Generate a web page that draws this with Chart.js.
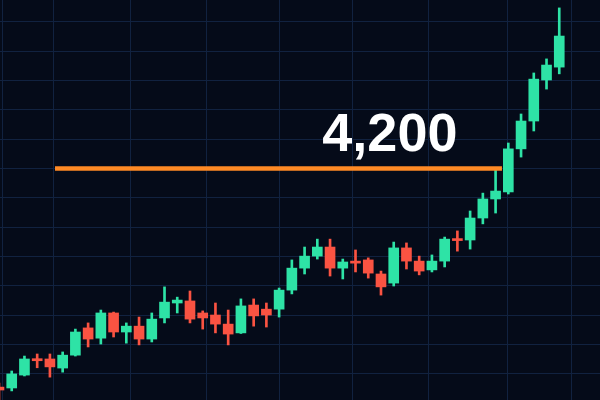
<!DOCTYPE html>
<html>
<head>
<meta charset="utf-8">
<script src="https://cdn.jsdelivr.net/npm/chart.js@4.4.1/dist/chart.umd.min.js"></script>
<style>
  html, body { margin: 0; padding: 0; background: #050b19; }
  #wrap { width: 600px; height: 400px; }
</style>
</head>
<body>
<div id="wrap"><canvas id="chart" width="600" height="400"></canvas></div>
<script>
// OHLC per candle, oldest first
const opens  = [3454, 3451, 3495, 3551, 3550, 3519, 3563, 3656, 3621, 3707, 3642, 3662, 3618, 3690, 3741,
                3748, 3707, 3700, 3669, 3639, 3734, 3720, 3720, 3785, 3860, 3901, 3932, 3860, 3884, 3888,
                3840, 3809, 3929, 3884, 3854, 3884, 3958, 3956, 4031, 4096, 4120, 4267, 4362, 4502, 4546];
const closes = [3444, 3499, 3550, 3544, 3523, 3563, 3642, 3618, 3707, 3642, 3662, 3618, 3686, 3744, 3751,
                3686, 3690, 3669, 3635, 3731, 3697, 3700, 3785, 3860, 3901, 3932, 3860, 3881, 3877, 3843,
                3796, 3929, 3884, 3850, 3884, 3959, 3954, 4031, 4096, 4123, 4267, 4362, 4505, 4553, 4652];
const highs  = [3468, 3509, 3560, 3567, 3567, 3574, 3652, 3673, 3717, 3710, 3673, 3693, 3707, 3796, 3761,
                3782, 3714, 3741, 3717, 3755, 3755, 3741, 3792, 3888, 3932, 3959, 3959, 3891, 3922, 3895,
                3850, 3949, 3946, 3901, 3905, 3966, 3987, 4055, 4116, 4198, 4287, 4386, 4526, 4574, 4748];
const lows   = [3403, 3441, 3492, 3520, 3488, 3505, 3560, 3591, 3601, 3625, 3604, 3598, 3608, 3673, 3707,
                3673, 3652, 3639, 3598, 3637, 3662, 3659, 3693, 3772, 3840, 3891, 3833, 3823, 3847, 3826,
                3768, 3799, 3857, 3837, 3847, 3864, 3918, 3925, 4011, 4048, 4113, 4239, 4328, 4471, 4523];

// resistance level and its label
const levelValue = 4200;
const levelFrom = 4.4;    // candle index where the level line starts
const levelTo = 39.5;     // ... and where it ends
const labelText = '4,200';
const labelIndex = 30.7;

// grid
const yTicks = [3500, 3600, 3700, 3800, 3900, 4000, 4100, 4200, 4300, 4400, 4500, 4600, 4700];
const gridX = [0.3, 4.3, 10.3, 16.3, 22, 27.8, 33.7, 39.9, 45];

const GREEN = '#2ee3a6';
const RED = '#fa5342';
const ORANGE = '#ff8a25';
const GRID = '#112240';

const idx = opens.map((_, i) => i);
const colors = idx.map(i => closes[i] >= opens[i] ? GREEN : RED);

const levelLabel = {
    id: 'levelLabel',
    afterDatasetsDraw(chart) {
        const { ctx, scales: { x, y } } = chart;
        ctx.save();
        ctx.font = 'bold 54px "Liberation Sans", Arial, sans-serif';
        ctx.fillStyle = '#ffffff';
        ctx.textAlign = 'center';
        ctx.textBaseline = 'alphabetic';
        ctx.fillText(labelText, x.getPixelForValue(labelIndex), y.getPixelForValue(levelValue) - 17);
        ctx.restore();
    }
};

new Chart(document.getElementById('chart'), {
    type: 'bar',
    data: {
        datasets: [
            {
                type: 'line',
                data: [{ x: levelFrom, y: levelValue }, { x: levelTo, y: levelValue }],
                borderColor: ORANGE,
                borderWidth: 4.5,
                borderCapStyle: 'butt',
                pointRadius: 0,
                order: 0,
            },
            {
                data: idx.map(i => ({ x: i, y: [opens[i], closes[i]] })),
                backgroundColor: colors,
                barThickness: 10,
                minBarLength: 2,
                grouped: false,
                order: 1,
            },
            {
                data: idx.map(i => ({ x: i, y: [lows[i], highs[i]] })),
                backgroundColor: colors,
                barThickness: 2,
                grouped: false,
                order: 2,
            },
        ]
    },
    options: {
        responsive: false,
        animation: false,
        events: [],
        layout: { padding: 0 },
        plugins: { legend: { display: false }, tooltip: { enabled: false } },
        scales: {
            x: {
                type: 'linear',
                min: 0.08,
                max: 47.2,
                offset: false,
                grid: { color: GRID, drawTicks: false, offset: false },
                border: { display: false },
                ticks: { display: false },
                afterBuildTicks: s => { s.ticks = gridX.map(v => ({ value: v })); }
            },
            y: {
                min: 3410,
                max: 4775,
                grid: { color: GRID, drawTicks: false },
                border: { display: false },
                ticks: { display: false },
                afterBuildTicks: s => { s.ticks = yTicks.map(v => ({ value: v })); }
            }
        }
    },
    plugins: [levelLabel]
});
</script>
</body>
</html>
